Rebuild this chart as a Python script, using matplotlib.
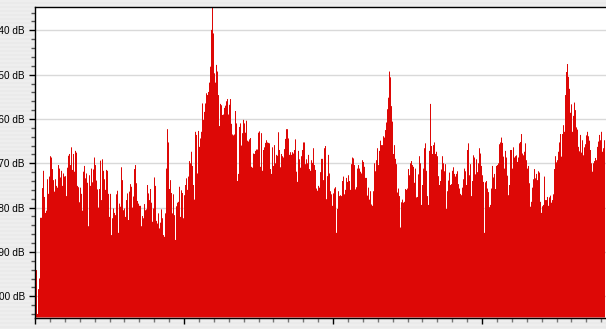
import numpy as np
import matplotlib.pyplot as plt
from matplotlib.ticker import MultipleLocator, FuncFormatter

W, H = 606, 329

# spectrum levels in dB, one value per bin, read left to right
levels_a = [-94.1, -94.1, -104.0, -98.4, -96.0, -82.3, -82.3, -75.6, -71.7, -77.6,
            -81.2, -80.7, -73.6, -76.9, -73.0, -68.4, -68.7, -71.3, -73.8, -76.4,
            -73.6, -75.1, -75.5, -70.4, -71.2, -73.2, -71.7, -75.1, -72.3, -73.0,
            -72.9, -77.4, -71.0, -68.3, -67.9, -70.4, -66.4, -71.5, -67.9, -71.9,
            -67.2, -67.6, -75.1, -75.4, -78.8, -75.5, -76.9, -80.7, -71.9, -70.6,
            -73.4, -72.3, -74.4, -84.2, -72.7, -75.1, -71.2, -74.3, -71.4, -68.7,
            -70.4, -73.9, -75.9, -80.0, -75.8, -69.4, -78.3, -69.1, -71.7, -73.6,
            -76.0, -71.5, -71.7, -76.9, -82.1, -76.9, -86.2, -82.4, -80.2, -81.2,
            -81.7, -77.0, -76.2, -85.7, -79.1, -79.8, -70.9, -73.8, -80.6, -80.2,
            -82.1, -78.3, -76.8, -82.8]
levels_b = [-76.4, -74.7, -75.3, -80.0, -77.5, -71.3, -70.4, -74.5, -78.5, -79.1,
            -79.6, -79.6, -84.2, -81.9, -82.4, -79.2, -80.6, -80.4, -74.9, -76.8,
            -78.3, -75.8, -78.9, -83.2, -80.2, -73.2, -75.1, -83.0, -83.6, -81.3,
            -84.7, -83.4, -80.4, -82.4, -86.2, -86.6, -81.3, -71.2, -62.3, -65.3,
            -75.8, -73.8, -76.7, -81.3, -77.0, -81.7, -87.3, -79.7, -78.9, -78.7,
            -75.3, -82.1, -76.1, -76.7, -82.4, -77.2, -74.9, -73.4, -76.0, -73.0,
            -69.5, -70.0, -67.4, -70.6, -74.9, -78.2, -62.9, -63.6, -72.3, -62.7,
            -66.3, -64.4, -62.9, -56.5, -60.2, -58.4, -56.5, -54.2, -54.6, -53.9,
            -51.8, -48.2, -39.9, -34.0, -40.7, -49.7, -51.8, -47.8, -49.3, -54.6,
            -61.6, -56.6, -56.9, -59.1, -59.0, -57.5]
levels_c = [-57.0, -56.0, -55.5, -59.0, -56.8, -55.5, -61.1, -63.5, -63.7, -63.5,
            -58.2, -61.0, -74.0, -72.4, -61.8, -61.0, -66.0, -63.2, -60.2, -61.0,
            -63.1, -60.4, -64.9, -65.1, -64.6, -64.3, -70.8, -71.0, -67.8, -67.9,
            -67.2, -66.9, -66.9, -63.1, -62.8, -70.8, -63.2, -71.7, -67.0, -66.4,
            -65.4, -64.8, -65.3, -65.4, -65.5, -71.3, -72.4, -66.4, -70.6, -65.9,
            -70.0, -68.1, -68.3, -63.0, -67.0, -70.9, -67.9, -68.4, -68.7, -66.8,
            -64.5, -62.3, -62.3, -64.4, -68.1, -67.5, -68.1, -67.5, -67.8, -67.0,
            -64.6, -71.9, -74.2, -67.2, -69.1, -71.0, -68.4, -67.0, -65.3, -65.3,
            -70.2, -69.1, -70.0, -68.1, -71.3, -71.7, -69.3, -69.9, -66.6, -70.4,
            -71.5, -75.7, -76.2, -75.1, -75.5, -72.0]
levels_d = [-69.0, -69.0, -73.8, -66.6, -66.1, -78.1, -72.9, -68.1, -72.3, -76.3,
            -77.0, -79.6, -76.8, -75.7, -75.4, -85.7, -80.3, -76.3, -77.4, -77.2,
            -77.4, -74.0, -73.0, -77.0, -76.0, -73.3, -74.2, -72.7, -74.0, -76.0,
            -70.2, -68.7, -68.9, -70.4, -75.9, -75.4, -71.2, -70.4, -71.2, -71.9,
            -72.3, -69.3, -69.7, -70.8, -73.3, -73.3, -77.3, -75.5, -78.2, -76.3,
            -79.3, -79.6, -76.3, -70.0, -71.8, -69.3, -66.6, -70.4, -67.2, -64.9,
            -65.9, -65.9, -63.9, -64.2, -62.5, -60.8, -57.8, -55.2, -49.3, -50.6,
            -57.1, -60.6, -67.9, -65.9, -69.0, -70.2, -76.6, -75.7, -77.4, -84.5,
            -78.8, -78.2, -78.9, -78.7, -75.8, -76.0, -75.7, -71.3, -72.7, -70.0,
            -69.5, -70.4, -70.8, -74.4, -71.2, -77.7]
levels_e = [-77.6, -72.5, -68.4, -70.0, -79.4, -74.9, -71.2, -66.6, -65.5, -71.7,
            -77.4, -79.4, -67.2, -56.6, -66.1, -67.9, -65.9, -65.3, -67.9, -67.4,
            -68.4, -72.9, -74.9, -74.0, -71.4, -68.4, -70.0, -71.8, -70.2, -80.3,
            -76.3, -73.9, -72.1, -74.9, -74.7, -71.7, -70.9, -72.4, -73.0, -72.4,
            -71.8, -74.7, -75.7, -76.9, -77.2, -75.5, -73.6, -71.2, -71.8, -74.9,
            -67.0, -65.5, -72.7, -70.2, -77.4, -74.0, -68.2, -68.7, -72.5, -69.1,
            -72.0, -70.0, -66.6, -67.8, -70.6, -72.7, -74.2, -85.7, -74.3, -74.0,
            -75.7, -76.5, -79.9, -79.4, -75.7, -70.6, -73.2, -72.4, -75.8, -70.6,
            -70.4, -70.0, -65.7, -65.3, -64.2, -65.4, -68.5, -71.2, -67.2, -68.7,
            -72.8, -77.2, -74.9, -67.0, -67.0, -71.2]
levels_f = [-66.4, -68.7, -68.4, -68.2, -69.7, -68.7, -65.5, -65.2, -63.4, -67.8,
            -68.2, -67.4, -65.5, -69.3, -71.2, -70.6, -74.5, -79.8, -78.7, -75.5,
            -73.6, -71.3, -73.4, -72.4, -73.8, -71.8, -72.1, -78.7, -81.2, -79.7,
            -79.4, -73.0, -78.3, -78.3, -77.6, -79.6, -77.7, -77.3, -78.9, -78.3,
            -77.0, -71.3, -68.4, -69.8, -69.3, -67.4, -65.3, -63.4, -68.5, -63.4,
            -61.4, -62.9, -54.6, -49.4, -47.6, -50.5, -53.2, -58.6, -56.7, -62.9,
            -59.3, -56.3, -58.0, -61.9, -62.4, -66.3, -67.3, -63.6, -67.6, -64.8,
            -68.2, -66.4, -65.7, -63.7, -62.9, -63.9, -64.9, -67.0, -70.0, -71.9,
            -70.0, -69.5, -68.8, -69.3, -66.3, -65.1, -63.6, -64.8, -62.9, -67.4,
            -66.6, -64.8]

levels = np.array(levels_a + levels_b + levels_c + levels_d + levels_e + levels_f)
edges = np.arange(len(levels) + 1)

Y_TOP, Y_BOT = -34.8, -104.8
BINS_PER_DIV = 149

fig = plt.figure(figsize=(W / 100, H / 100), dpi=100)
fig.patch.set_facecolor('#ececec')
# faint pinstripe window background
rows = np.arange(H)
stripe = np.where(rows % 4 < 2, 0.93, 0.917)
fig.figimage(np.repeat(stripe[:, None], W, axis=1), cmap='gray', vmin=0, vmax=1, zorder=-10)

ax = fig.add_axes([35 / W, 1 - 317.5 / H, 571 / W, (317.5 - 7.3) / H])
ax.set_zorder(5)
ax.set_facecolor('white')
ax.stairs(levels, edges, baseline=Y_BOT, fill=True, color='#dd0806', lw=0, zorder=2)

ax.set_xlim(0, 571)
ax.set_ylim(Y_BOT, Y_TOP)

ax.yaxis.set_major_locator(MultipleLocator(10))
ax.yaxis.set_minor_locator(MultipleLocator(2))
ax.yaxis.set_major_formatter(FuncFormatter(lambda v, p: f"{v:.0f} dB"))
ax.xaxis.set_major_locator(MultipleLocator(BINS_PER_DIV))
ax.xaxis.set_minor_locator(MultipleLocator(BINS_PER_DIV / 10))

ax.tick_params(axis='y', which='major', length=4.3, width=1, color='black', pad=3.0,
               labelsize=7.2, labelfontfamily='Liberation Sans')
ax.tick_params(axis='y', which='minor', length=2.9, width=1, color='#555555')
ax.tick_params(axis='x', which='major', length=4.3, width=1, color='black', labelbottom=False)
ax.tick_params(axis='x', which='minor', length=2.9, width=1, color='#777777')

ax.grid(axis='y', which='major', color='#d9d9d9', lw=1, zorder=1)
ax.set_axisbelow(True)

for side in ['left', 'top', 'bottom']:
    ax.spines[side].set_color('black')
    ax.spines[side].set_linewidth(1.0)
ax.spines['right'].set_visible(False)

fig.savefig('out.png', dpi=100, facecolor=fig.get_facecolor())
